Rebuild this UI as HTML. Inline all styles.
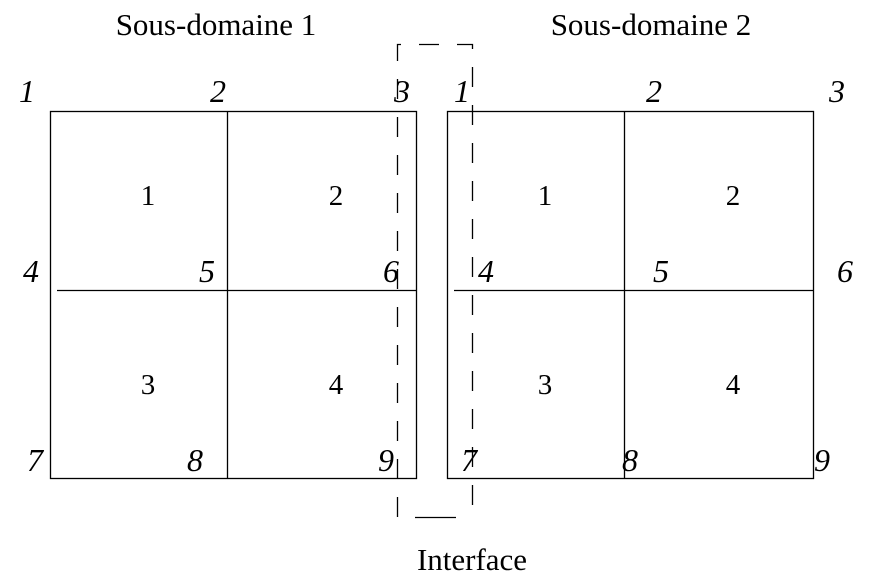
<!DOCTYPE html>
<html><head><style>body{margin:0;background:#fff}</style></head><body>
<svg width="872" height="582" xmlns="http://www.w3.org/2000/svg" font-family="Liberation Serif, serif">
<g stroke="#000" stroke-width="1.3" fill="none">
<rect x="50.5" y="111.5" width="366" height="367"/>
<line x1="227.5" y1="111" x2="227.5" y2="479"/>
<line x1="57" y1="290.5" x2="417" y2="290.5"/>
<rect x="447.5" y="111.5" width="366" height="367"/>
<line x1="624.5" y1="111" x2="624.5" y2="479"/>
<line x1="454" y1="290.5" x2="813" y2="290.5"/>
</g>
<g stroke="#000" stroke-width="1.3" fill="none" stroke-dasharray="20 18">
<path d="M397.5 517 V44.5 H472.5 V517"/>
</g>
<g stroke="#000" stroke-width="1.3" fill="none">
<line x1="415" y1="517.5" x2="456" y2="517.5"/>
</g>
<g font-size="31" text-anchor="middle">
<text x="216" y="35">Sous-domaine 1</text>
<text x="651" y="35">Sous-domaine 2</text>
<text x="472" y="570">Interface</text>
</g>
<g font-size="29" text-anchor="middle">
<text x="148" y="205">1</text><text x="336" y="205">2</text>
<text x="148" y="394">3</text><text x="336" y="394">4</text>
<text x="545" y="205">1</text><text x="733" y="205">2</text>
<text x="545" y="394">3</text><text x="733" y="394">4</text>
</g>
<g font-size="32" font-style="italic" text-anchor="middle">
<text x="27" y="102">1</text><text x="218" y="102">2</text><text x="402" y="102">3</text>
<text x="31" y="282">4</text><text x="207" y="282">5</text><text x="391" y="282">6</text>
<text x="35" y="471">7</text><text x="195" y="471">8</text><text x="386" y="471">9</text>
<text x="462" y="102">1</text><text x="654" y="102">2</text><text x="837" y="102">3</text>
<text x="486" y="282">4</text><text x="661" y="282">5</text><text x="845" y="282">6</text>
<text x="469" y="471">7</text><text x="630" y="471">8</text><text x="822" y="471">9</text>
</g>
</svg>
</body></html>
